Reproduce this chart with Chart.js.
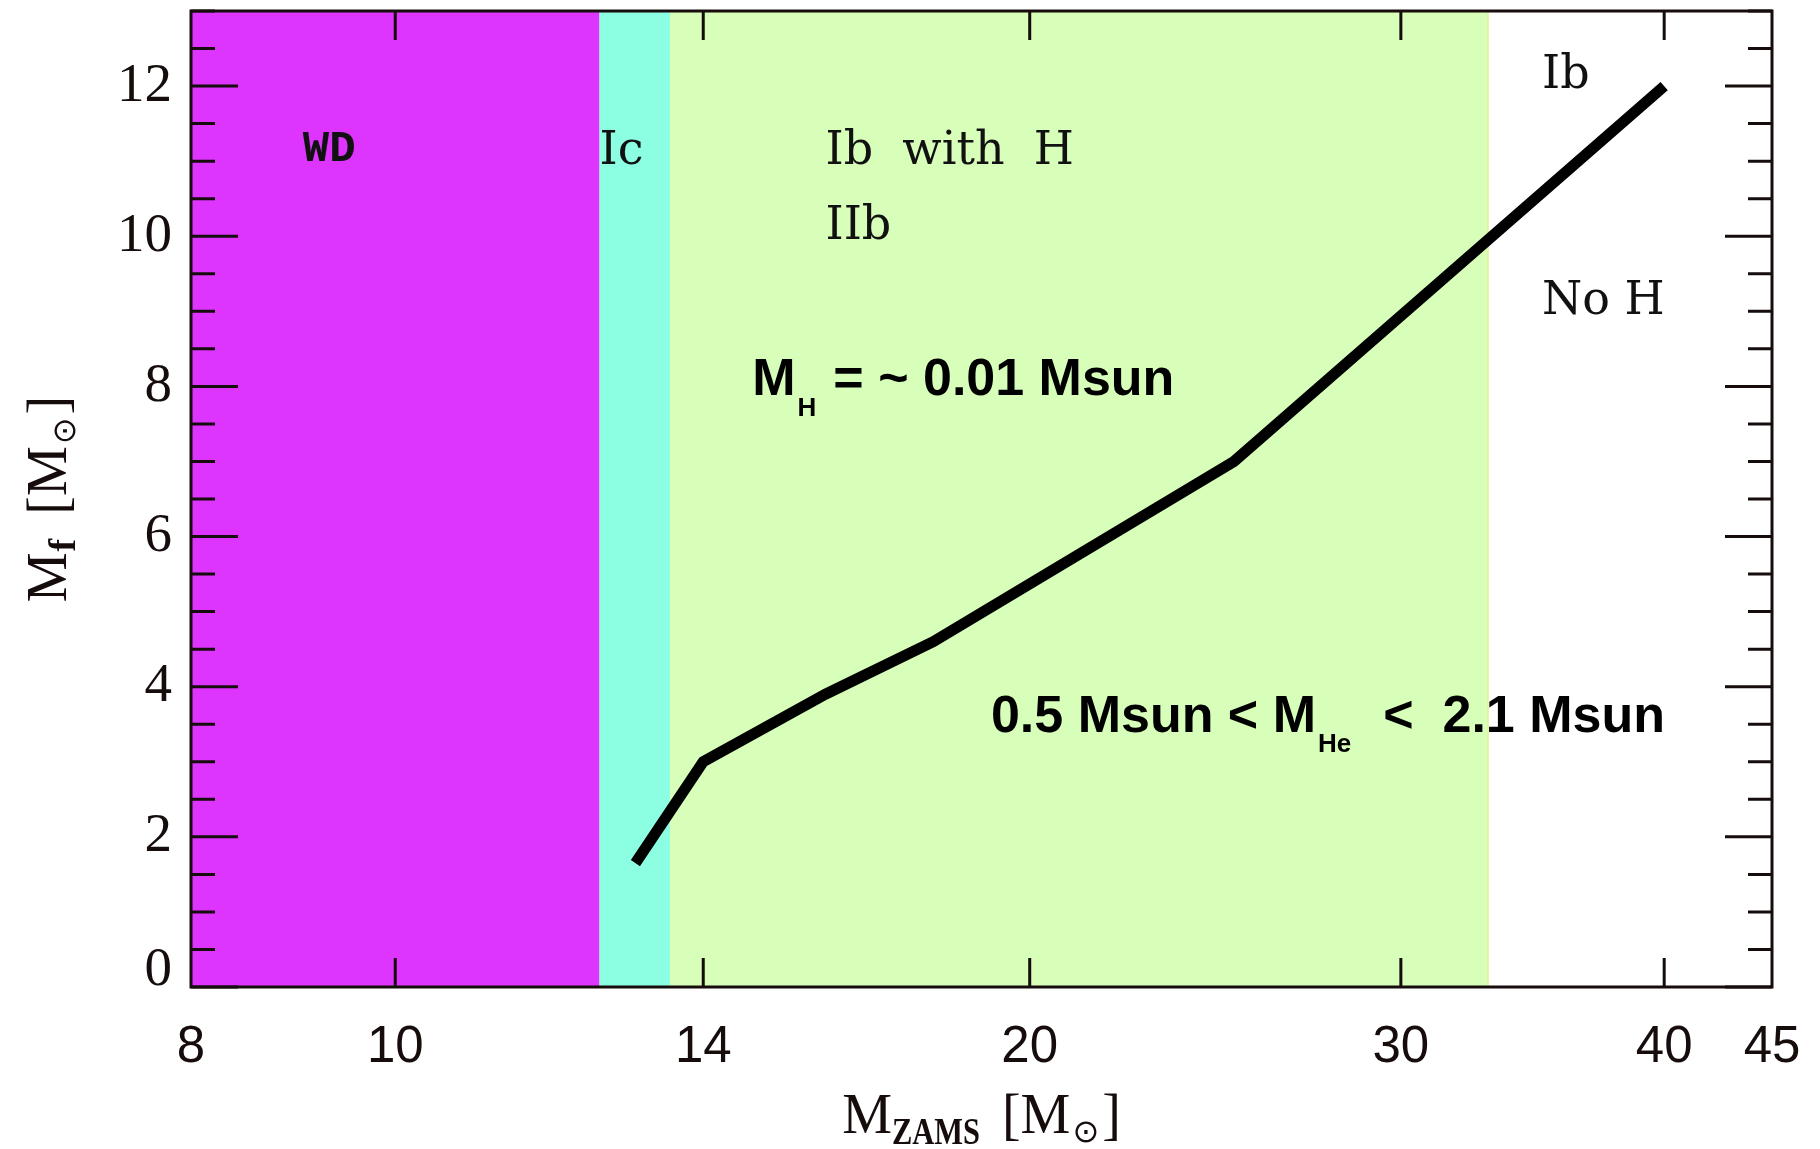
<!DOCTYPE html>
<html>
<head>
<meta charset="utf-8">
<title>Final mass vs ZAMS mass</title>
<script src="https://cdn.jsdelivr.net/npm/chart.js@4.4.1/dist/chart.umd.min.js"></script>
<style>
  html, body { margin: 0; padding: 0; background: #fff; }
  canvas { display: block; }
</style>
</head>
<body>
<canvas id="massChart" width="1820" height="1149"></canvas>
<script>
// final mass track against initial (ZAMS) mass
const zamsMass = [13, 14, 16, 18, 25, 40];
const finalMass = [1.65, 3.0, 3.9, 4.6, 7.0, 12.0];

// labelled ticks on the log x axis, and the ones that get a tick mark
const xTickValues = [8, 10, 14, 20, 30, 40, 45];
const xTickMarks = [10, 14, 20, 30, 40];

// outcome bands along M_ZAMS: WD, Ic, Ib/IIb
const bandStart = [8, 12.5, 13.5];
const bandEnd = [12.5, 13.5, 33];
const bandColors = ['#dd34fe', '#8cffe2', '#d8ffba'];

const X_MIN = 8, X_MAX = 45;
const Y_MIN = 0, Y_MAX = 13;
const Y_MAJOR = 2, Y_MINOR = 0.5;
const INK = '#160c0c';

const SERIF = '"DejaVu Serif", serif';
const SANS_BOLD = 'bold 52px "Liberation Sans", Arial, sans-serif';
const SUB_BOLD = 'bold 26px "Liberation Sans", Arial, sans-serif';

// text placed in data coordinates (x = M_ZAMS, y = M_f)
const regionLabels = [
  { text: 'WD', x: 9.04, y: 11.15, font: 'bold 44px "Liberation Mono", monospace' },
  { text: 'Ic', x: 12.5, y: 11.12, font: '46px ' + SERIF },
  { text: 'Ib  with  H', x: 16.0, y: 11.12, font: '46px ' + SERIF },
  { text: 'IIb', x: 16.0, y: 10.12, font: '46px ' + SERIF },
  { text: 'Ib', x: 35.0, y: 12.14, font: '46px ' + SERIF },
  { text: 'No H', x: 35.0, y: 9.13, font: '46px ' + SERIF }
];

const massNotes = [
  { x: 14.77, y: 7.88, runs: [
    { text: 'M', font: SANS_BOLD },
    { text: 'H', font: SUB_BOLD, dy: 21, gap: 2 },
    { text: '= ~ 0.01 Msun', font: SANS_BOLD, gap: 17 }
  ] },
  { x: 19.17, y: 3.4, runs: [
    { text: '0.5 Msun < M', font: SANS_BOLD },
    { text: 'He', font: SUB_BOLD, dy: 20, gap: 2 },
    { text: '<  2.1 Msun', font: SANS_BOLD, gap: 32 }
  ] }
];

const TITLE = '56px "Liberation Serif", "DejaVu Serif", serif';
const TITLE_SUB = 'bold 38px "Liberation Serif", serif';
const SUN = '32px "DejaVu Sans", sans-serif';
const xTitleRuns = [
  { text: 'M', font: TITLE },
  { text: 'ZAMS', font: TITLE_SUB, dy: 11, width: 88 },
  { text: ' [M', font: TITLE, gap: 8 },
  { text: '\u2299', font: SUN, dy: 9, gap: 2 },
  { text: ']', font: TITLE, gap: 3 }
];
const yTitleRuns = [
  { text: 'M', font: TITLE },
  { text: 'f', font: TITLE_SUB, dy: 9, gap: 1 },
  { text: ' [M', font: TITLE, gap: 10 },
  { text: '\u2299', font: SUN, dy: 9, gap: 2 },
  { text: ']', font: TITLE, gap: 3 }
];

function runWidth(ctx, r) {
  ctx.font = r.font;
  const w = ctx.measureText(r.text).width;
  return r.width ? Math.min(w, r.width) : w;
}

function totalWidth(ctx, runs) {
  return runs.reduce((sum, r) => sum + (r.gap || 0) + runWidth(ctx, r), 0);
}

function drawRuns(ctx, runs, x, y) {
  let cx = x;
  runs.forEach(r => {
    cx += r.gap || 0;
    const w = runWidth(ctx, r);
    if (r.width) ctx.fillText(r.text, cx, y + (r.dy || 0), r.width);
    else ctx.fillText(r.text, cx, y + (r.dy || 0));
    cx += w;
  });
}

const bandsPlugin = {
  id: 'bands',
  beforeDatasetsDraw(chart) {
    const { ctx, chartArea: { top, bottom }, scales: { x } } = chart;
    ctx.save();
    bandStart.forEach((s, i) => {
      const x0 = x.getPixelForValue(s);
      const x1 = x.getPixelForValue(bandEnd[i]);
      ctx.fillStyle = bandColors[i];
      ctx.fillRect(x0, top, x1 - x0, bottom - top);
    });
    // faint yellow seam on the right edge of the last band
    const edge = x.getPixelForValue(bandEnd[bandEnd.length - 1]);
    ctx.strokeStyle = 'rgba(232, 238, 140, 0.9)';
    ctx.lineWidth = 1.5;
    ctx.beginPath();
    ctx.moveTo(edge, top);
    ctx.lineTo(edge, bottom);
    ctx.stroke();
    ctx.restore();
  }
};

// inward tick marks on all four sides plus the box
const framePlugin = {
  id: 'frame',
  afterDatasetsDraw(chart) {
    const { ctx, chartArea: { left, right, top, bottom }, scales: { x, y } } = chart;
    ctx.save();
    ctx.strokeStyle = INK;
    ctx.lineWidth = 3;
    ctx.beginPath();
    const steps = Math.round((Y_MAX - Y_MIN) / Y_MINOR);
    const perMajor = Math.round(Y_MAJOR / Y_MINOR);
    for (let i = 0; i <= steps; i++) {
      const py = y.getPixelForValue(Y_MIN + i * Y_MINOR);
      const len = i % perMajor === 0 ? 47 : 24;
      ctx.moveTo(left, py);
      ctx.lineTo(left + len, py);
      ctx.moveTo(right, py);
      ctx.lineTo(right - len, py);
    }
    xTickMarks.forEach(v => {
      const px = x.getPixelForValue(v);
      ctx.moveTo(px, bottom);
      ctx.lineTo(px, bottom - 29);
      ctx.moveTo(px, top);
      ctx.lineTo(px, top + 29);
    });
    ctx.stroke();
    ctx.strokeRect(left, top, right - left, bottom - top);
    ctx.restore();
  }
};

const textPlugin = {
  id: 'labels',
  afterDraw(chart) {
    const { ctx, chartArea: a, scales: { x, y } } = chart;
    ctx.save();
    ctx.fillStyle = '#111';
    ctx.textAlign = 'left';

    ctx.textBaseline = 'middle';
    regionLabels.forEach(l => {
      ctx.font = l.font;
      ctx.fillText(l.text, x.getPixelForValue(l.x), y.getPixelForValue(l.y));
    });

    ctx.fillStyle = '#000';
    ctx.textBaseline = 'alphabetic';
    massNotes.forEach(n => {
      drawRuns(ctx, n.runs, x.getPixelForValue(n.x), y.getPixelForValue(n.y));
    });

    // axis titles with subscripts
    ctx.fillStyle = INK;
    const cx = (a.left + a.right) / 2;
    drawRuns(ctx, xTitleRuns, cx - totalWidth(ctx, xTitleRuns) / 2, a.bottom + 146);

    const cy = (a.top + a.bottom) / 2;
    ctx.translate(a.left - 125, cy);
    ctx.rotate(-Math.PI / 2);
    drawRuns(ctx, yTitleRuns, -totalWidth(ctx, yTitleRuns) / 2, 0);
    ctx.restore();
  }
};

new Chart(document.getElementById('massChart'), {
  type: 'line',
  data: {
    datasets: [{
      data: zamsMass.map((m, i) => ({ x: m, y: finalMass[i] })),
      borderColor: '#000',
      borderWidth: 11,
      borderCapStyle: 'butt',
      borderJoinStyle: 'miter',
      pointRadius: 0,
      tension: 0,
      fill: false
    }]
  },
  options: {
    responsive: false,
    animation: false,
    devicePixelRatio: 1,
    events: [],
    layout: { padding: { top: 11, right: 48, bottom: 0, left: 0 } },
    plugins: {
      legend: { display: false },
      tooltip: { enabled: false }
    },
    scales: {
      x: {
        type: 'logarithmic',
        min: X_MIN,
        max: X_MAX,
        grid: { display: false, drawTicks: false },
        border: { display: false },
        afterBuildTicks: scale => {
          scale.ticks = xTickValues.map(v => ({ value: v }));
        },
        ticks: {
          autoSkip: false,
          maxRotation: 0,
          padding: 30,
          color: INK,
          font: { family: '"Liberation Sans", Arial, sans-serif', size: 51 },
          callback: v => String(v)
        },
        afterFit: scale => {
          scale.height = 162;
          scale.paddingLeft = 0;
          scale.paddingRight = 0;
        }
      },
      y: {
        min: Y_MIN,
        max: Y_MAX,
        grid: { display: false, drawTicks: false },
        border: { display: false },
        ticks: {
          stepSize: Y_MAJOR,
          includeBounds: false,
          padding: 19,
          color: INK,
          font: { family: '"Liberation Serif", serif', size: 55, lineHeight: 0.6 },
          // lift the zero label off the bottom frame
          callback: v => (v === 0 ? ['0', ''] : String(v))
        },
        afterFit: scale => {
          scale.width = 191;
          scale.paddingTop = 0;
          scale.paddingBottom = 0;
        }
      }
    }
  },
  plugins: [bandsPlugin, framePlugin, textPlugin]
});
</script>
</body>
</html>
